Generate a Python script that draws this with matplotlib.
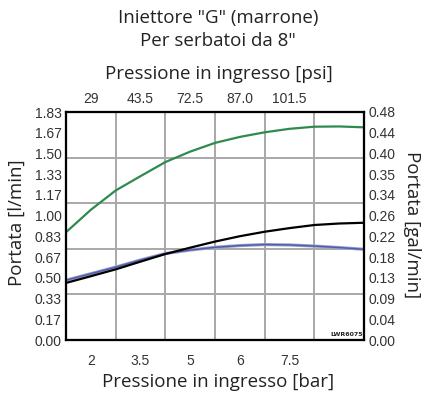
import matplotlib
matplotlib.use("Agg")
import matplotlib.pyplot as plt

# flow curves, x in chart columns (0..6), flow in l/min
col = [0, 0.5, 1, 1.5, 2, 2.5, 3, 3.5, 4, 4.5, 5, 5.5, 6]
flow_green = [0.865, 1.045, 1.200, 1.315, 1.428, 1.512, 1.582, 1.630, 1.667, 1.695, 1.712, 1.714, 1.707]
flow_black = [0.458, 0.512, 0.567, 0.629, 0.690, 0.741, 0.790, 0.833, 0.869, 0.898, 0.923, 0.935, 0.941]
flow_blue = [0.480, 0.532, 0.585, 0.642, 0.694, 0.722, 0.744, 0.758, 0.766, 0.763, 0.754, 0.742, 0.728]

ymax = 1.83
bar_labels = ["2", "3.5", "5", "6", "7.5"]
psi_labels = ["29", "43.5", "72.5", "87.0", "101.5"]
lmin_labels = ["0.00", "0.17", "0.33", "0.50", "0.67", "0.83", "1.00", "1.17", "1.33", "1.50", "1.67", "1.83"]
gal_labels = ["0.00", "0.04", "0.09", "0.13", "0.18", "0.22", "0.26", "0.34", "0.35", "0.40", "0.44", "0.48"]

W, H = 425, 393
fig = plt.figure(figsize=(W / 100, H / 100), dpi=100)
x0, x1, ytop, ybot = 66, 364, 112, 340
ax = fig.add_axes([x0 / W, 1 - ybot / H, (x1 - x0) / W, (ybot - ytop) / H])
ax.set_xlim(0, 6)
ax.set_ylim(0, ymax)

ax.plot(col, flow_green, color="#2f8a4f", lw=1.6, zorder=3)
ax.plot(col, flow_blue, color="#a09ed4", lw=2.3, zorder=3)
ax.plot(col, flow_blue, color="#4d60a6", lw=1.1, zorder=4)
ax.plot(col, flow_black, color="black", lw=1.6, zorder=5)

# grid on major ticks, labels on minor ticks
tick_font = dict(family="Liberation Sans", size=10, color="#333333")
grid_x = [1, 2, 3, 4, 5]
grid_y = [ymax * k / 5 for k in range(1, 5)]
ax.set_xticks(grid_x)
ax.set_yticks(grid_y)
ax.set_xticklabels([])
ax.set_yticklabels([])
ax.grid(True, color="#a8a8a8", lw=1.4)
ax.set_axisbelow(True)
lab_x = [0.5, 1.5, 2.5, 3.5, 4.5]
lab_y = [ymax * k / 11 for k in range(12)]
ax.set_xticks(lab_x, bar_labels, minor=True, **tick_font)
ax.set_yticks(lab_y, lmin_labels, minor=True, **tick_font)
ax.tick_params(which="both", length=0)
ax.tick_params(axis="x", which="minor", pad=10)
ax.tick_params(axis="y", which="minor", pad=3)
for s in ax.spines.values():
    s.set_linewidth(1.5)

top = ax.twiny()
top.set_xlim(0, 6)
top.set_xticks(lab_x, psi_labels, **tick_font)
top.tick_params(length=0, pad=4)

right = ax.twinx()
right.set_ylim(0, ymax)
right.set_yticks(lab_y, gal_labels, **tick_font)
right.tick_params(length=0, pad=3)
for a in (top, right):
    for s in a.spines.values():
        s.set_linewidth(1.5)

ax.text(0.995, 0.012, "LWR6075", transform=ax.transAxes, ha="right", va="bottom",
        fontsize=4.5, family="Liberation Sans Narrow", fontweight="bold", color="#222222")

title_font = dict(family="Open Sans", size=13.5, color="#222222", ha="center", va="center")
fig.text(218 / W, 1 - 18 / H, 'Iniettore "G" (marrone)', **title_font)
fig.text(218 / W, 1 - 41 / H, 'Per serbatoi da 8"', **title_font)
fig.text(219 / W, 1 - 74 / H, "Pressione in ingresso [psi]", **title_font)
fig.text(218 / W, 1 - 382 / H, "Pressione in ingresso [bar]", **title_font)
fig.text(17 / W, 1 - 223 / H, "Portata [l/min]", rotation=90, **title_font)
fig.text(412 / W, 1 - 225 / H, "Portata [gal/min]", rotation=270, **title_font)

fig.savefig("out.png", dpi=100)
